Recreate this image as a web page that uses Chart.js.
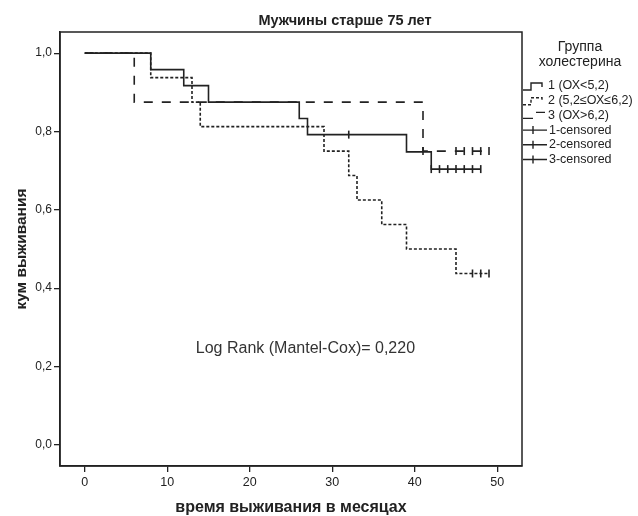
<!DOCTYPE html>
<html>
<head>
<meta charset="utf-8">
<script src="https://cdn.jsdelivr.net/npm/chart.js@4.4.1/dist/chart.umd.min.js"></script>
<style>
  html, body { margin: 0; padding: 0; background: #fff; }
</style>
</head>
<body>
<canvas id="km" width="638" height="516"></canvas>
<script>
// Kaplan-Meier steps (time in months, cumulative survival)
const g1Time = [0, 8, 12, 15, 26, 27, 39, 42, 48];
const g1Surv = [1, 0.958, 0.917, 0.875, 0.833, 0.792, 0.748, 0.704, 0.704];
const g1CensTime = [32, 42, 43, 44, 45, 46, 47, 48];
const g1CensSurv = [0.792, 0.704, 0.704, 0.704, 0.704, 0.704, 0.704, 0.704];

const g2Time = [0, 8, 13, 14, 29, 32, 33, 36, 39, 45, 49];
const g2Surv = [1, 0.9375, 0.875, 0.8125, 0.75, 0.6875, 0.625, 0.5625, 0.5, 0.4375, 0.4375];
const g2CensTime = [47, 48, 49];
const g2CensSurv = [0.4375, 0.4375, 0.4375];

const g3Time = [0, 6, 41, 49];
const g3Surv = [1, 0.875, 0.75, 0.75];
const g3CensTime = [41, 45, 46, 47, 48, 49];
const g3CensSurv = [0.75, 0.75, 0.75, 0.75, 0.75, 0.75];

const xTicks = [0, 10, 20, 30, 40, 50];
const yTicks = [0, 0.2, 0.4, 0.6, 0.8, 1.0];

const chartTitle = 'Мужчины старше 75 лет';
const legendTitle = ['Группа', 'холестерина'];
const legendLabels = ['1 (ОХ<5,2)', '2 (5,2≤ОХ≤6,2)', '3 (ОХ>6,2)', '1-censored', '2-censored', '3-censored'];

const ink = '#222';
const FONT = '"Liberation Sans", Arial, sans-serif';
const toPts = (xs, ys) => xs.map((x, i) => ({ x: x, y: ys[i] }));

function stepSet(xs, ys, dash) {
    return {
        data: toPts(xs, ys),
        showLine: true,
        stepped: true,
        borderColor: ink,
        borderWidth: 1.6,
        borderDash: dash,
        pointRadius: 0,
        fill: false
    };
}
function censSet(xs, ys) {
    return {
        data: toPts(xs, ys),
        showLine: false,
        pointStyle: 'line',
        rotation: 90,
        pointRadius: 4,
        pointBorderWidth: 1.6,
        borderColor: ink,
        backgroundColor: ink
    };
}

// frame, title, annotation and the right-hand legend
const extras = {
    id: 'extras',
    afterDraw(chart) {
        const { ctx, chartArea: a, scales } = chart;
        ctx.save();
        ctx.strokeStyle = ink;
        ctx.lineWidth = 1.5;
        ctx.strokeRect(a.left, a.top, a.right - a.left, a.bottom - a.top);

        ctx.textAlign = 'center';
        ctx.textBaseline = 'middle';
        ctx.fillStyle = ink;
        ctx.font = 'bold 14.5px ' + FONT;
        ctx.fillText(chartTitle, 345, 21);

        ctx.fillStyle = '#333';
        ctx.font = '16px ' + FONT;
        ctx.fillText('Log Rank (Mantel-Cox)= 0,220', scales.x.getPixelForValue(26.75), scales.y.getPixelForValue(0.247));

        // legend
        ctx.fillStyle = ink;
        ctx.font = '14px ' + FONT;
        ctx.fillText(legendTitle[0], 580, 47);
        ctx.fillText(legendTitle[1], 580, 62);

        ctx.textAlign = 'left';
        ctx.font = '12.5px ' + FONT;
        const x0 = 523;
        legendLabels.forEach((lab, i) => {
            const y = 86 + i * 14.7;
            ctx.lineWidth = 1.4;
            ctx.setLineDash(i === 1 ? [3, 2] : []);
            ctx.beginPath();
            if (i < 2) {
                ctx.moveTo(x0, y + 4); ctx.lineTo(x0 + 8, y + 4); ctx.lineTo(x0 + 8, y - 3);
                ctx.lineTo(x0 + 19, y - 3); ctx.lineTo(x0 + 19, y + 1);
            } else if (i === 2) {
                ctx.moveTo(x0, y + 3); ctx.lineTo(x0 + 10, y + 3);
                ctx.moveTo(x0 + 13, y - 3); ctx.lineTo(x0 + 22, y - 3);
            } else {
                ctx.moveTo(x0, y); ctx.lineTo(x0 + 24, y);
                ctx.moveTo(x0 + 10, y - 4); ctx.lineTo(x0 + 10, y + 4);
            }
            ctx.stroke();
            ctx.fillText(lab, i < 3 ? 548 : 549, y);
        });
        ctx.restore();
    }
};

new Chart(document.getElementById('km'), {
    type: 'scatter',
    data: {
        datasets: [
            stepSet(g1Time, g1Surv, []),
            stepSet(g2Time, g2Surv, [3, 2]),
            stepSet(g3Time, g3Surv, [9, 9]),
            censSet(g1CensTime, g1CensSurv),
            censSet(g2CensTime, g2CensSurv),
            censSet(g3CensTime, g3CensSurv)
        ]
    },
    options: {
        responsive: false,
        animation: false,
        layout: { padding: { left: 0, right: 116, top: 32, bottom: 0 } },
        plugins: {
            legend: { display: false },
            tooltip: { enabled: false },
            title: { display: false }
        },
        scales: {
            x: {
                type: 'linear',
                min: -3,
                max: 53,
                afterBuildTicks: s => { s.ticks = xTicks.map(v => ({ value: v })); },
                afterFit: s => { s.height = 50; },
                grid: { drawOnChartArea: false, drawTicks: true, tickLength: 6, color: ink, lineWidth: 1.3 },
                border: { display: true, color: ink, width: 1.5 },
                ticks: {
                    color: ink,
                    padding: 3,
                    font: { family: FONT, size: 12.5 }
                },
                title: {
                    display: true,
                    text: 'время выживания в месяцах',
                    color: ink,
                    font: { family: FONT, size: 16, weight: 'bold' },
                    padding: { top: 0, bottom: -1 }
                }
            },
            y: {
                type: 'linear',
                min: -0.054,
                max: 1.054,
                afterBuildTicks: s => { s.ticks = yTicks.map(v => ({ value: v })); },
                afterFit: s => { s.width = 60; },
                grid: { drawOnChartArea: false, drawTicks: true, tickLength: 6, color: ink, lineWidth: 1.3 },
                border: { display: true, color: ink, width: 1.5 },
                ticks: {
                    color: ink,
                    padding: 2,
                    font: { family: FONT, size: 12 },
                    callback: v => v.toFixed(1).replace('.', ',')
                },
                title: {
                    display: true,
                    text: 'кум выживания',
                    color: ink,
                    font: { family: FONT, size: 15.5, weight: 'bold' },
                    padding: { top: 12, bottom: 2 }
                }
            }
        }
    },
    plugins: [extras]
});
</script>
</body>
</html>
